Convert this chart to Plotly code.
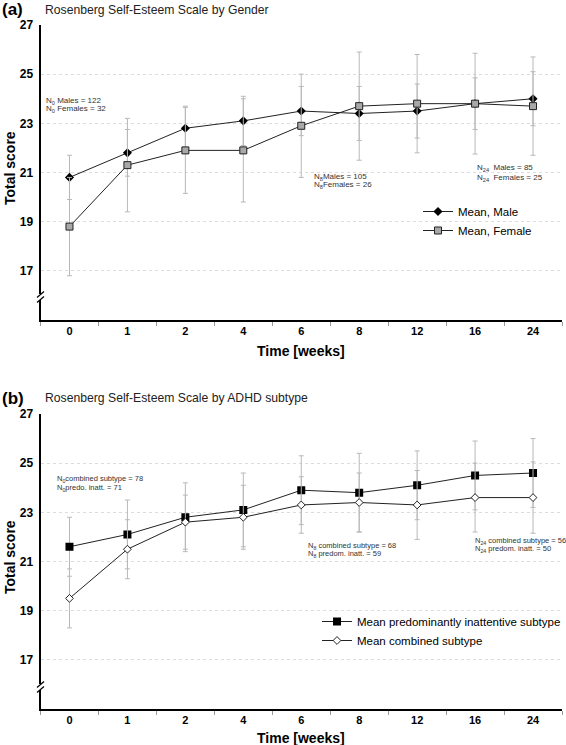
import plotly.graph_objects as go

# ---- data ----
weeks = ["0", "1", "2", "4", "6", "8", "12", "16", "24"]

male_mean = [20.8, 21.8, 22.8, 23.1, 23.5, 23.4, 23.5, 23.8, 24.0]
male_sd = [0.9, 0.95, 0.9, 1.0, 1.0, 1.1, 1.1, 1.05, 1.1]
female_mean = [18.8, 21.3, 21.9, 21.9, 22.9, 23.7, 23.8, 23.8, 23.7]
female_sd = [2.0, 1.9, 1.75, 2.1, 2.1, 2.2, 2.0, 2.05, 2.0]

inatt_mean = [21.6, 22.1, 22.8, 23.1, 23.9, 23.8, 24.1, 24.5, 24.6]
inatt_sd = [1.2, 1.4, 1.4, 1.5, 1.4, 1.6, 1.4, 1.4, 1.4]
comb_mean = [19.5, 21.5, 22.6, 22.8, 23.3, 23.4, 23.3, 23.6, 23.6]
comb_sd = [1.2, 1.2, 1.1, 1.3, 1.15, 1.2, 1.4, 1.4, 1.45]

y_ticks = [17, 19, 21, 23, 25, 27]

W, H = 566, 745
FONT = "Liberation Sans, Arial, sans-serif"


def px(x):
    return x / W


def py(y):
    return 1 - y / H


LINE_C = "#222222"
ERR_C = "#b8b8b8"

fig = go.Figure()

err = lambda sd: dict(type="data", array=sd, visible=True, color=ERR_C, thickness=1, width=2.5)

fig.add_trace(go.Scatter(
    x=weeks, y=male_mean, error_y=err(male_sd), name="Mean, Male",
    mode="lines+markers", line=dict(color=LINE_C, width=1),
    marker=dict(symbol="diamond", size=7, color="black"),
    xaxis="x", yaxis="y", legend="legend"))
fig.add_trace(go.Scatter(
    x=weeks, y=female_mean, error_y=err(female_sd), name="Mean, Female",
    mode="lines+markers", line=dict(color=LINE_C, width=1),
    marker=dict(symbol="square", size=7, color="#a8a8a8", line=dict(color="#222", width=1)),
    xaxis="x", yaxis="y", legend="legend"))

fig.add_trace(go.Scatter(
    x=weeks, y=inatt_mean, error_y=err(inatt_sd), name="Mean predominantly inattentive subtype",
    mode="lines+markers", line=dict(color=LINE_C, width=1),
    marker=dict(symbol="square", size=8, color="black"),
    xaxis="x2", yaxis="y2", legend="legend2"))
fig.add_trace(go.Scatter(
    x=weeks, y=comb_mean, error_y=err(comb_sd), name="Mean combined subtype",
    mode="lines+markers", line=dict(color=LINE_C, width=1),
    marker=dict(symbol="diamond", size=6, color="white", line=dict(color="#222", width=1)),
    xaxis="x2", yaxis="y2", legend="legend2"))

xdom = [px(40.5), px(562)]


def xaxis_cfg(anchor):
    return dict(domain=xdom, type="category", range=[-0.5, 8.5], anchor=anchor,
                showline=True, linecolor="black", linewidth=2,
                ticks="outside", tickson="boundaries", ticklen=4, tickcolor="#999",
                tickfont=dict(family=FONT, size=11, color="black", weight="bold"),
                showgrid=False, zeroline=False, fixedrange=True)


def yaxis_cfg(dom, anchor):
    return dict(domain=dom, range=[15, 27], anchor=anchor, tickvals=y_ticks,
                showgrid=True, gridcolor="#dcdcdc", griddash="dot", gridwidth=1,
                showline=True, linecolor="black", linewidth=2,
                ticks="outside", ticklen=3, tickcolor="rgba(0,0,0,0)",
                tickfont=dict(family=FONT, size=12, color="black", weight="bold"),
                zeroline=False, fixedrange=True)


annos = []


def txt(x, y, text, size, bold=False, xanchor="left", angle=0, color="black"):
    annos.append(dict(x=px(x), y=py(y), xref="paper", yref="paper", text=text,
                      showarrow=False, xanchor=xanchor, yanchor="middle", textangle=angle,
                      borderpad=0,
                      font=dict(family=FONT, size=size, color=color,
                                weight="bold" if bold else "normal")))


# panel headings
txt(1, 10, "(a)", 17, bold=True)
txt(44, 10, "Rosenberg Self-Esteem Scale by Gender", 12.2, color="#222")
txt(1, 398, "(b)", 17, bold=True)
txt(44, 398, "Rosenberg Self-Esteem Scale by ADHD subtype", 12.2, color="#222")

# axis titles
txt(10, 168, "Total score", 14, bold=True, xanchor="center", angle=-90)
txt(10, 557, "Total score", 14, bold=True, xanchor="center", angle=-90)
txt(301, 351, "Time [weeks]", 14, bold=True, xanchor="center")
txt(301, 738, "Time [weeks]", 14, bold=True, xanchor="center")

# sample size notes (a)
txt(45, 101, "N<sub>0</sub> Males = 122", 8, color="#333")
txt(45, 109, "N<sub>0</sub> Females = 32", 8, color="#333")
txt(313, 177, "N<sub>8</sub>Males = 105", 8, color="#333")
txt(313, 185, "N<sub>8</sub>Females = 26", 8, color="#333")
txt(476, 168, "N<sub>24</sub>  Males = 85", 8, color="#333")
txt(476, 178, "N<sub>24</sub>  Females = 25", 8, color="#333")
# sample size notes (b)
txt(56, 479, "N<sub>0</sub>combined subtype = 78", 7.5, color="#333")
txt(56, 488, "N<sub>0</sub>predo. inatt. = 71", 7.5, color="#333")
txt(307, 546, "N<sub>8</sub> combined subtype = 68", 7.5, color="#333")
txt(307, 554, "N<sub>8</sub> predom. inatt. = 59", 7.5, color="#333")
txt(474, 541, "N<sub>24</sub> combined subtype = 56", 7.5, color="#333")
txt(474, 549, "N<sub>24</sub> predom. inatt. = 50", 7.5, color="#333")

# axis break marks
shapes = []
for yb in (297, 687):
    shapes.append(dict(type="rect", xref="paper", yref="paper", layer="above",
                       x0=px(37), x1=px(44), y0=py(yb + 3), y1=py(yb - 3),
                       fillcolor="white", line=dict(width=0)))
    for dy in (-2.5, 2.5):
        shapes.append(dict(type="line", xref="paper", yref="paper", layer="above",
                           x0=px(37), y0=py(yb + dy + 3), x1=px(44), y1=py(yb + dy - 3),
                           line=dict(color="black", width=1.2)))

legend_common = dict(yanchor="top", bgcolor="rgba(0,0,0,0)",
                     font=dict(family=FONT, size=11.5, color="black"),
                     itemwidth=30, tracegroupgap=0)

fig.update_layout(
    width=W, height=H, autosize=False,
    margin=dict(l=0, r=0, t=0, b=0, autoexpand=False),
    paper_bgcolor="white", plot_bgcolor="white",
    font=dict(family=FONT),
    xaxis=xaxis_cfg("y"),
    yaxis=yaxis_cfg([py(320), py(25)], "x"),
    xaxis2=xaxis_cfg("y2"),
    yaxis2=yaxis_cfg([py(709), py(414)], "x2"),
    legend=dict(x=px(418), y=py(197), xanchor="left", **legend_common),
    legend2=dict(x=1.0, y=py(607), xanchor="right", **legend_common),
    annotations=annos,
    shapes=shapes,
    showlegend=True,
)

fig.write_html(
    "out.html",
    config={"displayModeBar": False},
    post_script="document.body.style.margin='0';document.body.style.padding='0';",
)
